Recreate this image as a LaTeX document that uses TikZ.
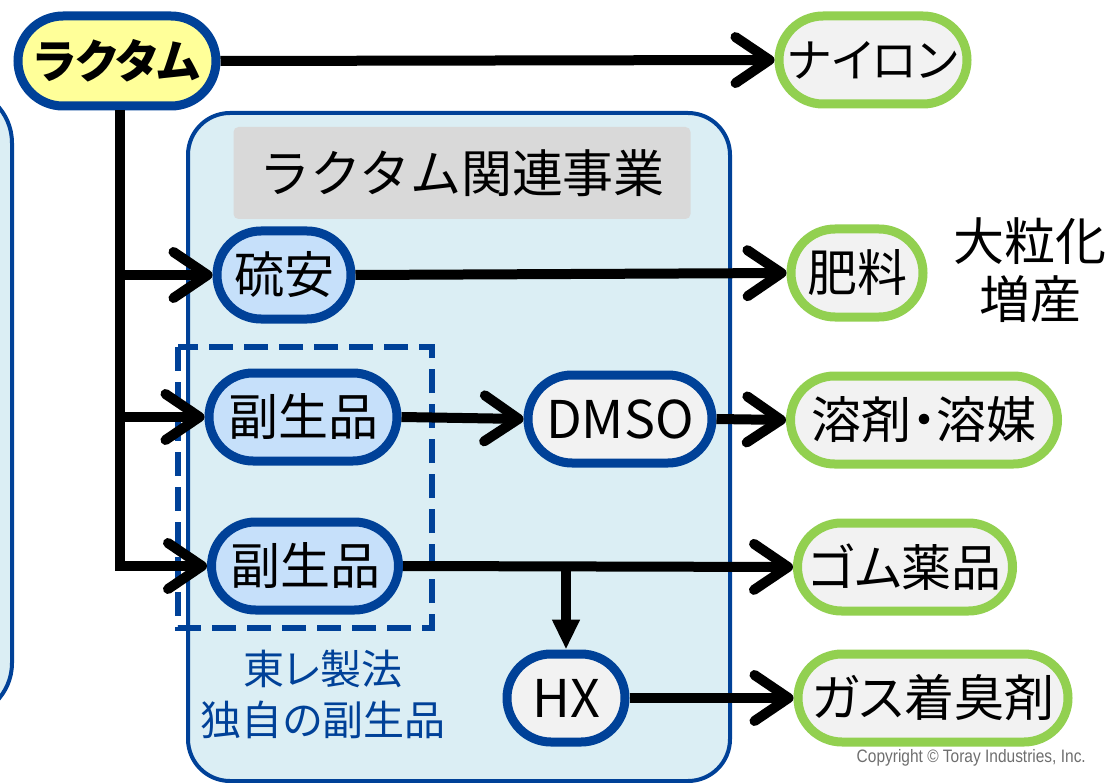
\documentclass[tikz,border=0pt]{standalone}
\usepackage{fontspec}
\setmainfont[RawFeature=+palt]{Noto Sans CJK JP}
\newfontfamily\fullfont{Noto Sans CJK JP}
\newfontfamily\copyfont[FakeStretch=0.86]{Liberation Sans}
\usetikzlibrary{arrows.meta}
\definecolor{bdblue}{RGB}{0,65,152}
\definecolor{boxblue}{RGB}{219,238,244}
\definecolor{nodeblue}{RGB}{198,224,250}
\definecolor{ltgray}{RGB}{242,242,242}
\definecolor{grn}{RGB}{146,208,80}
\definecolor{yel}{RGB}{255,255,153}
\definecolor{titlegray}{RGB}{217,217,217}
\definecolor{cpgray}{RGB}{110,110,110}
\begin{document}
\begin{tikzpicture}[x=1pt,y=-1pt,
  pill/.style={draw, line width=9pt, rounded corners=44pt, minimum height=88pt, inner sep=0pt, font=\fontsize{50}{60}\selectfont},
  src/.style={pill, draw=bdblue, fill=nodeblue},
  mid/.style={pill, draw=bdblue, fill=ltgray},
  prod/.style={pill, draw=grn, fill=ltgray},
  flow/.style={line width=10pt, -{Straight Barb[length=34pt,width=46pt,line cap=round,line join=round]}},
  down/.style={line width=10pt, -{Triangle[length=30pt,width=26pt]}},
  bigbox/.style={draw=bdblue, line width=4pt, fill=boxblue},
]
\useasboundingbox (0,0) rectangle (1115,783);
\clip (0,0) rectangle (1115,783);

% background boxes
\draw[bigbox, rounded corners=55pt] (-100,88) rectangle (12,718);
\draw[bigbox, rounded corners=42pt] (188,113) rectangle (730,781);
\node[fill=titlegray, rounded corners=5pt, minimum width=457pt, minimum height=92pt, inner sep=0pt,
      font=\fullfont\fontsize{51}{60}\selectfont] (title) at (462,173) {ラクタム関連事業};
\draw[bdblue, line width=6pt, dash pattern=on 24pt off 11pt] (178,347) rectangle (432,628);

% nodes
\node[pill, draw=bdblue, fill=yel, minimum width=198pt, minimum height=90pt, rounded corners=45pt,
      font=\fontsize{46}{56}\selectfont\bfseries] (lac) at (117,61) {ラクタム};
\node[prod, minimum width=188pt, font=\fontsize{46}{56}\selectfont] (nylon) at (873,60) {ナイロン};
\node[src, minimum width=134pt] (ryuan) at (284,275) {硫安};
\node[prod, minimum width=132pt] (hiryo) at (857,273) {肥料};
\node[src, minimum width=188pt] (fuku1) at (303,417) {副生品};
\node[mid, minimum width=184pt, font=\fontsize{52}{60}\selectfont] (dmso) at (620,419) {DMSO};
\node[prod, minimum width=267pt] (solv) at (924,420) {溶剤・溶媒};
\node[src, minimum width=187pt] (fuku2) at (305,566) {副生品};
\node[prod, minimum width=215pt] (gomu) at (905,567) {ゴム薬品};
\node[mid, minimum width=118pt, font=\fontsize{52}{60}\selectfont] (hx) at (566,698) {HX};
\node[prod, minimum width=270pt] (gas) at (933,698) {ガス着臭剤};

% texts
\node[align=center, font=\fontsize{51}{58}\selectfont, inner sep=0pt] (note) at (1030,270) {大粒化\\増産};
\node[align=center, text=bdblue, font=\fontsize{41}{51}\selectfont, inner sep=0pt] (toray) at (323,694) {東レ製法\\独自の副生品};
\node[anchor=east, text=cpgray, font=\copyfont\fontsize{18}{21}\selectfont, inner sep=0pt] (copy) at (1086,758) {Copyright © Toray Industries, Inc.};

% connectors
\coordinate (tr) at (120,0);
\draw[flow] (lac.east) -- (nylon.west);
\draw[flow] (lac.south -| tr) |- (fuku2.west);
\draw[flow] (tr |- ryuan.west) -- (ryuan.west);
\draw[flow] (tr |- fuku1.west) -- (fuku1.west);
\draw[flow] (ryuan.east) -- (hiryo.west);
\draw[flow] (fuku1.east) -- (dmso.west);
\draw[flow] (dmso.east) -- (solv.west);
\draw[flow] (fuku2.east) -- (gomu.west);
\draw[down] (hx.north |- fuku2.east) -- (hx.north);
\draw[flow] (hx.east) -- (gas.west);
\end{tikzpicture}
\end{document}
